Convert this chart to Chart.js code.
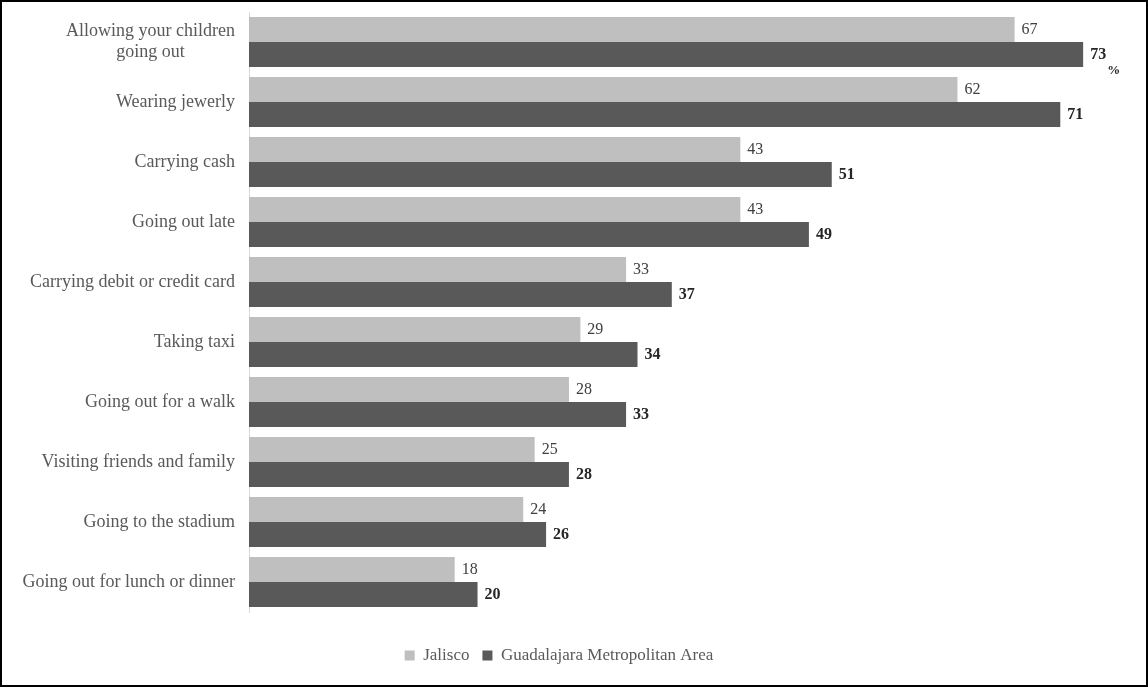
<!DOCTYPE html>
<html>
<head>
<meta charset="utf-8">
<script src="https://cdn.jsdelivr.net/npm/chart.js@4.4.1/dist/chart.umd.min.js"></script>
<style>
  html, body { margin: 0; padding: 0; background: #fff; }
  #wrap { width: 1148px; height: 687px; box-sizing: border-box; border: 2px solid #000; position: relative; }
  canvas { display: block; }
</style>
</head>
<body>
<div id="wrap"><canvas id="c" width="1144" height="683"></canvas></div>
<script>
const categories = [
  ["Allowing your children", "going out"],
  "Wearing jewerly",
  "Carrying cash",
  "Going out late",
  "Carrying debit or credit card",
  "Taking taxi",
  "Going out for a walk",
  "Visiting friends and family",
  "Going to the stadium",
  "Going out for lunch or dinner"
];
const jalisco = [67, 62, 43, 43, 33, 29, 28, 25, 24, 18];
const gma = [73, 71, 51, 49, 37, 34, 33, 28, 26, 20];
const seriesNames = ["Jalisco", "Guadalajara Metropolitan Area"];
const unitSuffix = "%";

const FONT = "'Liberation Serif', 'Times New Roman', serif";
const LABEL_SIZE = 18;
const LEGEND_SIZE = 17;

const labelPlugin = {
  id: 'barLabels',
  afterDraw(chart) {
    const ctx = chart.ctx;
    ctx.save();
    // category labels (right aligned block, lines centred within block)
    const yScale = chart.scales.y;
    ctx.font = LABEL_SIZE + 'px ' + FONT;
    ctx.fillStyle = '#595959';
    ctx.textBaseline = 'middle';
    const right = chart.chartArea.left - 14;
    const lh = 21;
    chart.data.labels.forEach((lab, i) => {
      const lines = Array.isArray(lab) ? lab : [lab];
      const widest = Math.max(...lines.map(l => ctx.measureText(l).width));
      const cy = yScale.getPixelForValue(i);
      const cx = right - widest / 2;
      ctx.textAlign = 'center';
      lines.forEach((l, k) => {
        ctx.fillText(l, cx, cy + (k - (lines.length - 1) / 2) * lh);
      });
    });
    // value labels
    ctx.textAlign = 'left';
    chart.data.datasets.forEach((ds, di) => {
      const meta = chart.getDatasetMeta(di);
      meta.data.forEach((bar, i) => {
        const txt = String(ds.data[i]);
        if (di === 0) {
          ctx.font = '16px ' + FONT;
          ctx.fillStyle = '#404040';
        } else {
          ctx.font = 'bold 16px ' + FONT;
          ctx.fillStyle = '#262626';
        }
        const x = bar.x + 7;
        ctx.fillText(txt, x, bar.y);
        if (di === 1 && i === 0) {
          const w = ctx.measureText(txt).width;
          ctx.font = 'bold 13px ' + FONT;
          ctx.fillText(unitSuffix, x + w + 1, bar.y + 16);
        }
      });
    });
    ctx.restore();
  }
};

new Chart(document.getElementById('c'), {
  type: 'bar',
  data: {
    labels: categories,
    datasets: [
      { label: seriesNames[0], data: jalisco, backgroundColor: '#bfbfbf', categoryPercentage: 0.834, barPercentage: 1.0 },
      { label: seriesNames[1], data: gma, backgroundColor: '#595959', categoryPercentage: 0.834, barPercentage: 1.0 }
    ]
  },
  options: {
    indexAxis: 'y',
    responsive: false,
    animation: false,
    layout: { padding: { top: 10, left: 10, right: 40, bottom: 11 } },
    scales: {
      x: {
        min: 0, max: 75,
        display: true,
        ticks: { display: false },
        grid: { display: false, drawTicks: false },
        border: { display: false },
        afterFit: s => { s.height = 22; s.paddingLeft = 0; s.paddingRight = 0; }
      },
      y: {
        grid: { display: false, drawTicks: false, tickLength: 0 },
        border: { display: true, color: '#d9d9d9', width: 1 },
        ticks: { display: false },
        afterFit: s => { s.width = 237; s.paddingTop = 0; s.paddingBottom = 0; }
      }
    },
    plugins: {
      legend: {
        position: 'bottom',
        labels: {
          font: { family: FONT, size: LEGEND_SIZE },
          color: '#595959',
          boxWidth: 10,
          boxHeight: 10,
          padding: 13
        }
      },
      tooltip: { enabled: false }
    }
  },
  plugins: [labelPlugin]
});
</script>
</body>
</html>
